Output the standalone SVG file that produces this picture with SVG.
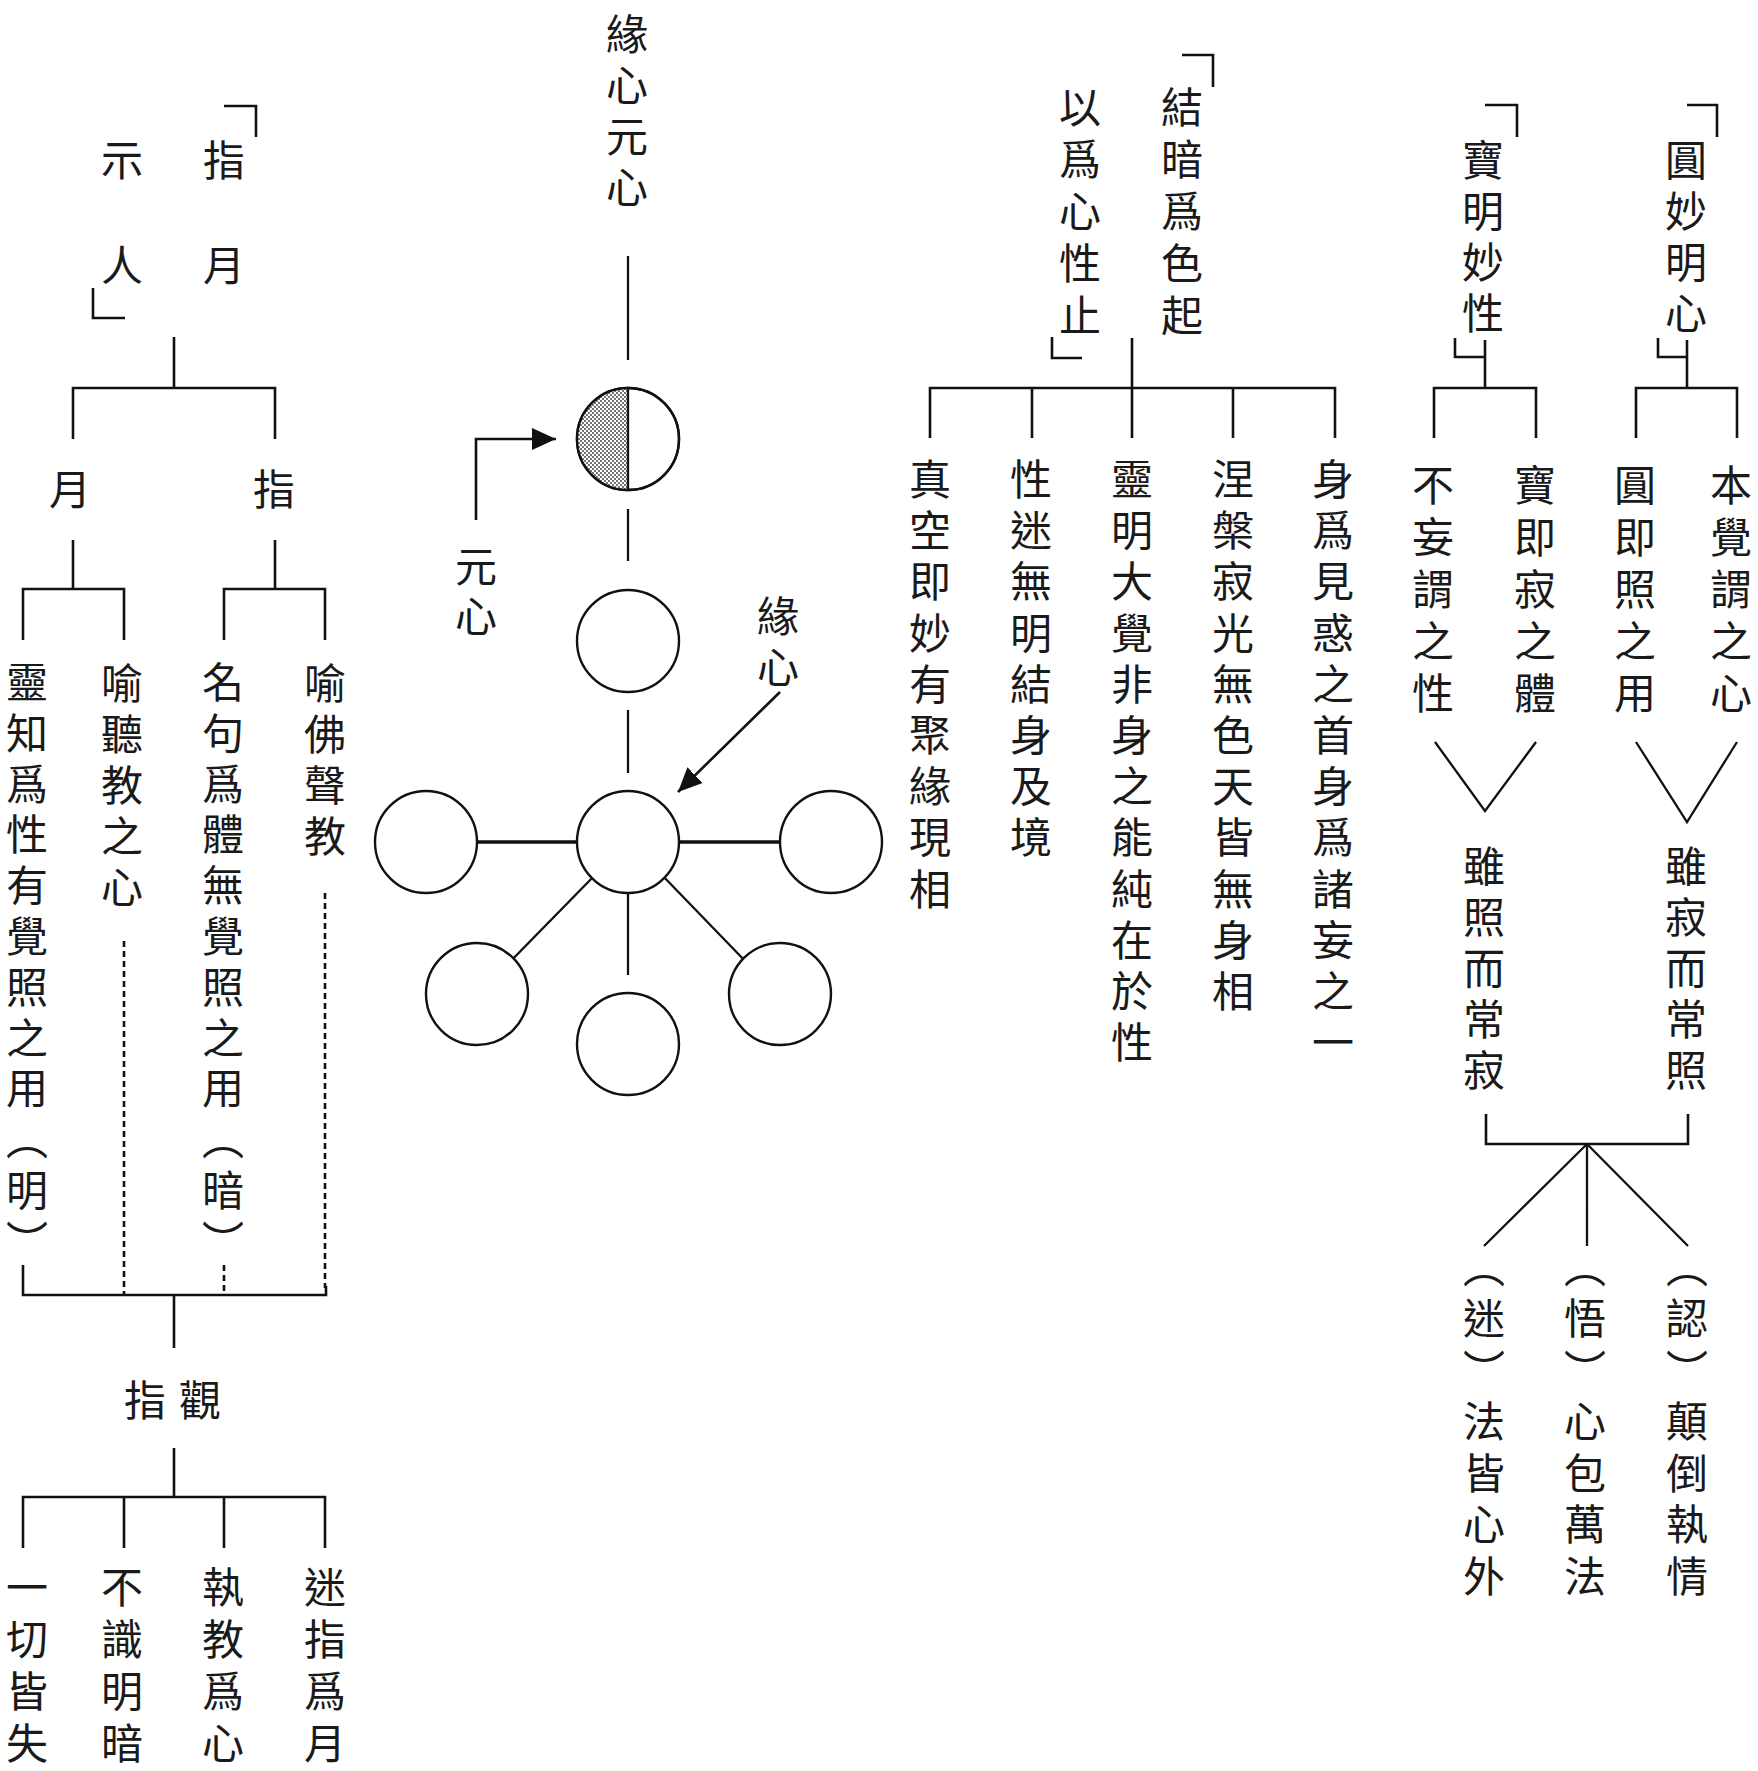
<svg xmlns="http://www.w3.org/2000/svg" width="1758" height="1771" viewBox="0 0 1758 1771">
<style>
.v{writing-mode:vertical-rl;font-family:"Noto Sans CJK TC","Noto Sans CJK SC",sans-serif;font-size:42px;letter-spacing:9px;fill:#1a1a1a}
.h{font-family:"Noto Sans CJK TC","Noto Sans CJK SC",sans-serif;font-size:42px;fill:#1a1a1a;dominant-baseline:central}
.ln{stroke:#111;stroke-width:2.6;fill:none}
.thin{stroke:#111;stroke-width:2.3;fill:none}
.thick{stroke:#111;stroke-width:3.4;fill:none}
.dash{stroke-dasharray:6 4}
.circ{stroke:#111;stroke-width:2.4;fill:#fff}
</style>
<defs>
<pattern id="dots" width="4" height="4" patternUnits="userSpaceOnUse">
<rect width="4" height="4" fill="#fff"/>
<circle cx="1" cy="1" r="0.9" fill="#333"/>
<circle cx="3" cy="3" r="0.9" fill="#333"/>
</pattern>
<marker id="arr" viewBox="0 0 24 22" refX="24" refY="11" markerWidth="24" markerHeight="22" markerUnits="userSpaceOnUse" orient="auto">
<path d="M0,0 L24,11 L0,22 Z" fill="#111"/>
</marker>
</defs>
<rect width="1758" height="1771" fill="#fff"/>

<g id="connectors">
<!-- left tree -->
<path class="ln" d="M224,106 H256 V137"/>
<path class="ln" d="M93,288 V318 H125"/>
<path class="ln" d="M174,337 V388 M73,439 V388 H275 V439"/>
<path class="ln" d="M73,540 V589 M23,640 V589 H124 V640"/>
<path class="ln" d="M275,540 V589 M224,640 V589 H325 V640"/>
<path class="ln dash" d="M124,941 V1295"/>
<path class="ln dash" d="M325,893 V1288"/>
<path class="ln dash" d="M224,1265 V1295"/>
<path class="ln" d="M23,1265 V1295 H326 V1286"/>
<path class="ln" d="M174,1295 V1348"/>
<path class="ln" d="M174,1448 V1497 M23,1548 V1497 H325 V1548 M124,1497 V1548 M224,1497 V1548"/>
<!-- center -->
<path class="thin" d="M628,256 V360"/>
<path class="thin" d="M628,509 V561"/>
<path class="thin" d="M628,710 V773"/>
<path class="thin" d="M628,893 V975"/>
<path class="thick" d="M477,842 H577 M679,842 H780"/>
<path class="thin" d="M597,873 L507,965 M660,873 L749,965"/>
<path class="ln" d="M476,520 V439 H556" marker-end="url(#arr)"/>
<path class="ln" d="M780,692 L678,792" marker-end="url(#arr)"/>
<!-- third group -->
<path class="ln" d="M1182,55 H1213 V87"/>
<path class="ln" d="M1052,337 V358 H1082"/>
<path class="ln" d="M1132,338 V438 M930,438 V388 H1335 V438 M1032,388 V438 M1233,388 V438"/>
<!-- right groups -->
<path class="ln" d="M1485,105 H1517 V137"/>
<path class="ln" d="M1455,338 V357 H1485 M1485,340 V388 M1434,438 V388 H1536 V438"/>
<path class="ln" d="M1687,105 H1717 V137"/>
<path class="ln" d="M1658,338 V357 H1687 M1687,340 V388 M1636,438 V388 H1737 V438"/>
<path class="thin" d="M1435,742 L1485,811 L1536,742"/>
<path class="thin" d="M1636,742 L1687,822 L1737,742"/>
<path class="ln" d="M1486,1114 V1144 H1688 V1114"/>
<path class="thin" d="M1587,1144 L1484,1246 M1587,1144 V1246 M1587,1144 L1688,1246"/>
</g>

<g id="n-zhiyue-title"><text class="v" x="224" y="139" style="letter-spacing:63px">指月</text><text class="v" x="122" y="139" style="letter-spacing:63px">示人</text></g>
<g id="n-yue"><text class="v" x="70" y="468">月</text></g>
<g id="n-zhi"><text class="v" x="274" y="468">指</text></g>
<g id="n-lingzhi"><text class="v" x="27" y="661" style="letter-spacing:8.8px">靈知爲性有覺照之用（明）</text></g>
<g id="n-yuting"><text class="v" x="122" y="662">喻聽教之心</text></g>
<g id="n-mingju"><text class="v" x="223" y="661" style="letter-spacing:8.8px">名句爲體無覺照之用（暗）</text></g>
<g id="n-yufo"><text class="v" x="325" y="662">喻佛聲教</text></g>
<g id="n-zhiguan"><text class="h" x="124" y="1397" style="letter-spacing:13px">指觀</text></g>
<g id="n-yiqie"><text class="v" x="27" y="1566 1618 1670 1722" style="letter-spacing:0">一切皆失</text></g>
<g id="n-bushi"><text class="v" x="122" y="1566 1618 1670 1722" style="letter-spacing:0">不識明暗</text></g>
<g id="n-zhijiao"><text class="v" x="223" y="1566 1618 1670 1722" style="letter-spacing:0">執教爲心</text></g>
<g id="n-mizhi"><text class="v" x="325" y="1566 1618 1670 1722" style="letter-spacing:0">迷指爲月</text></g>

<g id="n-yuanxin-title"><text class="v" x="627" y="13">緣心元心</text></g>
<g id="n-circle-top">
<circle class="circ" cx="628" cy="439" r="51"/>
<path d="M628,388 A51,51 0 0 0 628,490 Z" fill="url(#dots)"/>
<circle cx="628" cy="439" r="51" fill="none" stroke="#111" stroke-width="2.4"/>
<path class="thin" d="M628,388 V490"/>
</g>
<g id="n-circle-2"><circle class="circ" cx="628" cy="641" r="51"/></g>
<g id="n-circle-center"><circle class="circ" cx="628" cy="842" r="51"/></g>
<g id="n-circle-left"><circle class="circ" cx="426" cy="842" r="51"/></g>
<g id="n-circle-right"><circle class="circ" cx="831" cy="842" r="51"/></g>
<g id="n-circle-ll"><circle class="circ" cx="477" cy="994" r="51"/></g>
<g id="n-circle-bottom"><circle class="circ" cx="628" cy="1044" r="51"/></g>
<g id="n-circle-lr"><circle class="circ" cx="780" cy="994" r="51"/></g>
<g id="n-yuanxin-label"><text class="v" x="476" y="545" style="letter-spacing:8px">元心</text></g>
<g id="n-yuanxin2-label"><text class="v" x="778" y="595">緣心</text></g>

<g id="n-jiean"><text class="v" x="1182" y="86" style="letter-spacing:10px">結暗爲色起</text><text class="v" x="1080" y="86" style="letter-spacing:10px">以爲心性止</text></g>
<g id="n-zhenkong"><text class="v" x="930" y="458" style="letter-spacing:9.2px">真空即妙有聚緣現相</text></g>
<g id="n-xingmi"><text class="v" x="1031" y="458" style="letter-spacing:9.2px">性迷無明結身及境</text></g>
<g id="n-lingming"><text class="v" x="1132" y="458" style="letter-spacing:9.2px">靈明大覺非身之能純在於性</text></g>
<g id="n-niepan"><text class="v" x="1233" y="458" style="letter-spacing:9.2px">涅槃寂光無色天皆無身相</text></g>
<g id="n-shenwei"><text class="v" x="1333" y="458" style="letter-spacing:9.2px">身爲見惑之首身爲諸妄之一</text></g>

<g id="n-baoming"><text class="v" x="1483" y="139">寶明妙性</text></g>
<g id="n-yuanmiao"><text class="v" x="1686" y="139">圓妙明心</text></g>
<g id="n-buwang"><text class="v" x="1433" y="464" style="letter-spacing:10px">不妄謂之性</text></g>
<g id="n-baoji"><text class="v" x="1535" y="464" style="letter-spacing:10px">寶即寂之體</text></g>
<g id="n-yuanji"><text class="v" x="1635" y="464" style="letter-spacing:10px">圓即照之用</text></g>
<g id="n-benjue"><text class="v" x="1731" y="464" style="letter-spacing:10px">本覺謂之心</text></g>
<g id="n-suizhao"><text class="v" x="1484" y="845">雖照而常寂</text></g>
<g id="n-suiji"><text class="v" x="1686" y="845">雖寂而常照</text></g>
<g id="n-mi"><text class="v" x="1484" y="1246" style="letter-spacing:9.5px">（迷）法皆心外</text></g>
<g id="n-wu"><text class="v" x="1585" y="1246" style="letter-spacing:9.5px">（悟）心包萬法</text></g>
<g id="n-ren"><text class="v" x="1687" y="1246" style="letter-spacing:9.5px">（認）顛倒執情</text></g>
</svg>
